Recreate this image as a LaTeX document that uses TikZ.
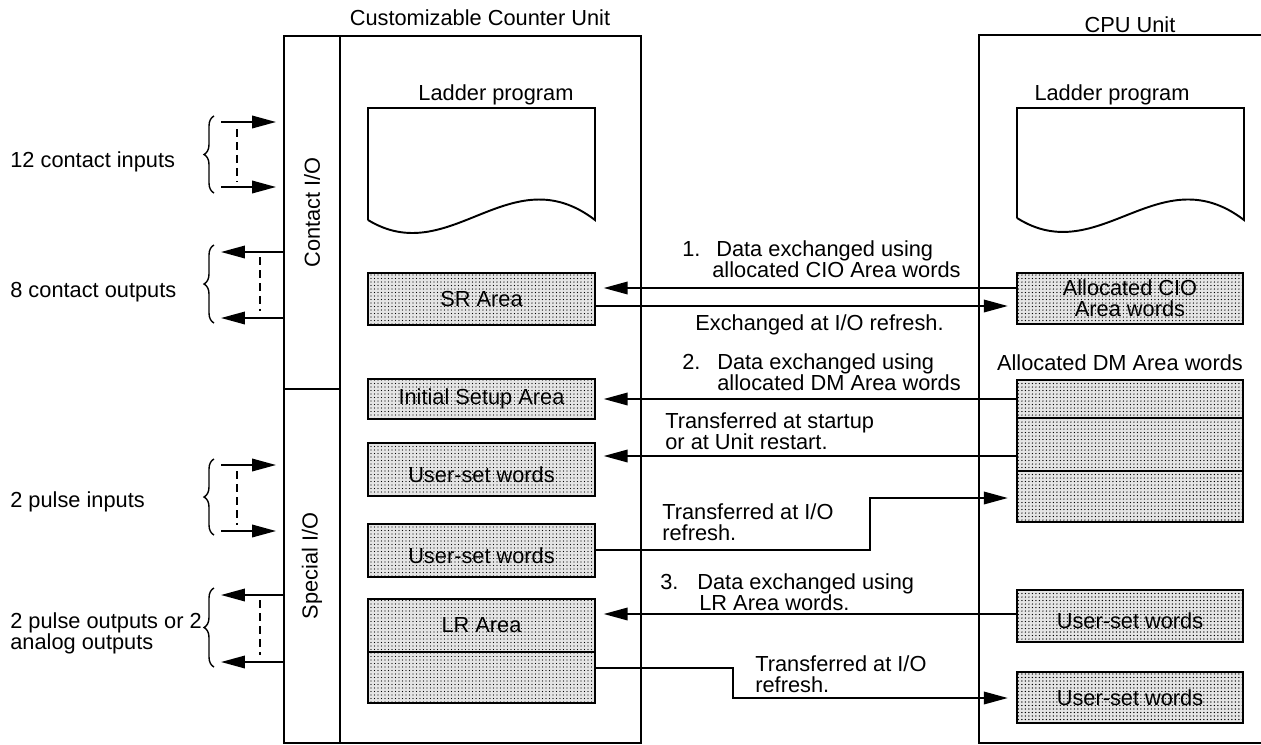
\documentclass[tikz,border=0pt]{standalone}
\usepackage{fontspec}
\setmainfont{Liberation Sans}
\usetikzlibrary{positioning,calc,arrows.meta,patterns.meta,decorations.pathreplacing}

\begin{document}
\begin{tikzpicture}[x=0.02cm, y=-0.02cm,
    font=\fontsize{12.4}{11.8}\selectfont,
    unitbox/.style={draw, line width=1.1pt, inner sep=0pt},
    area/.style={draw, line width=1.1pt, inner sep=0pt, minimum width=4.53cm,
        preaction={fill=black!10}, pattern={Dots[distance=0.07cm, radius=0.38pt]}, pattern color=black},
    lowtxt/.style={text height=0.5cm, text depth=0pt},
    arr/.style={-{Triangle[length=0.48cm, width=0.25cm]}, line width=1.1pt, shorten >=0.16cm},
    io/.style={-{Triangle[length=0.48cm, width=0.25cm]}, line width=1.1pt},
    lbl/.style={inner sep=0pt, align=left, anchor=west},
    brc/.style={decorate, decoration={brace, amplitude=0.2cm}, line width=0.8pt},
    dsh/.style={dash pattern=on 0.16cm off 0.1cm, line width=0.8pt},
]
\useasboundingbox (0,0) rectangle (1261,744);

% Customizable Counter Unit
\node (ccutitle) at (480,18) {Customizable Counter Unit};
\node[unitbox, minimum width=6.02cm, minimum height=14.14cm] (ccu) at (490.5,389.5) {};
\node[unitbox, rotate=90, minimum width=7.06cm, minimum height=1.12cm] (ctio) at (312,212.5) {Contact I/O};
\node[unitbox, rotate=90, minimum width=7.08cm, minimum height=1.12cm] (spio) at (312,566) {Special I/O};

\node (lad1) at (496,95) {Ladder program};
\draw[line width=1.1pt] (368,220) -- (368,108) -- (595,108) -- (595,220)
    .. controls (510,155) and (450,270) .. (368,220);

\node[area, minimum height=1.04cm] (sr) at (481.5,299) {SR Area};
\node[area, minimum height=0.8cm] (init) at (481.5,399) {Initial Setup Area};
\node[area, minimum height=1.06cm, lowtxt] (usr1) at (481.5,469.5) {User-set words};
\node[area, minimum height=1.06cm, lowtxt] (usr2) at (481.5,550.5) {User-set words};
\node[area, minimum height=1.06cm] (lr) at (481.5,625.5) {LR Area};
\node[area, minimum height=1.02cm] (lrb) at (481.5,677.5) {};

% CPU Unit
\node (cputitle) at (1130,25) {CPU Unit};
\draw[line width=1.1pt] (1261,35) -- (979,35) -- (979,743) -- (1261,743);

\node (lad2) at (1112,95) {Ladder program};
\draw[line width=1.1pt] (1017,218) -- (1017,108) -- (1244,108) -- (1244,220)
    .. controls (1159,155) and (1099,270) .. (1017,218);

\node[area, minimum height=1.02cm, align=center] (cio) at (1130,298.5) {Allocated CIO\\Area words};
\node (dmtitle) at (1120,363) {Allocated DM Area words};
\node[area, minimum height=0.76cm] (dma) at (1130,399) {};
\node[area, minimum height=1.06cm] (dmb) at (1130,444.5) {};
\node[area, minimum height=1.02cm] (dmc) at (1130,496.5) {};
\node[area, minimum height=1.04cm, lowtxt] (rusr1) at (1130,616) {User-set words};
\node[area, minimum height=1.02cm] (rusr2) at (1130,697.5) {User-set words};

% rows of the connectors
\coordinate (r1) at (0,288);
\coordinate (r2) at (0,306);
\coordinate (r3) at (0,399);
\coordinate (r4) at (0,456);
\coordinate (r5) at (0,550);
\coordinate (r5b) at (0,498);
\coordinate (r6) at (0,614);
\coordinate (r7) at (0,668);
\coordinate (r7b) at (0,698);
\coordinate (k1) at (870,0);
\coordinate (k2) at (733,0);

% Connectors
\draw[arr] (cio.west |- r1) -- (sr.east |- r1);
\draw[arr] (sr.east |- r2) -- (cio.west |- r2);
\draw[arr] (dma.west |- r3) -- (init.east |- r3);
\draw[arr] (dmb.west |- r4) -- (usr1.east |- r4);
\draw[arr] (usr2.east |- r5) -| (k1 |- r5b) -- (dmc.west |- r5b);
\draw[arr] (rusr1.west |- r6) -- (lr.east |- r6);
\draw[arr] (lrb.east |- r7) -| (k2 |- r7b) -- (rusr2.west |- r7b);

% Connector labels
\node[lbl] (t1) at (682,259) {\makebox[0.68cm][l]{1.}Data exchanged using\\\hspace*{0.6cm}allocated CIO Area words};
\node[lbl] (t2) at (695,325) {Exchanged at I/O refresh.};
\node[lbl] (t3) at (682,372) {\makebox[0.7cm][l]{2.}Data exchanged using\\\hspace*{0.7cm}allocated DM Area words};
\node[lbl] (t4) at (665,431) {Transferred at startup\\or at Unit restart.};
\node[lbl] (t5) at (662,522) {Transferred at I/O\\refresh.};
\node[lbl] (t6) at (660,592) {\makebox[0.74cm][l]{3.}Data exchanged using\\\hspace*{0.78cm}LR Area words.};
\node[lbl] (t7) at (755,674) {Transferred at I/O\\refresh.};

% Contact and special I/O
\coordinate (ci1) at (221,122);
\coordinate (ci2) at (221,187);
\coordinate (co1) at (221,252);
\coordinate (co2) at (221,318);
\coordinate (pi1) at (221,465);
\coordinate (pi2) at (221,531);
\coordinate (po1) at (221,595);
\coordinate (po2) at (221,662);

\draw[io, shorten >=0.14cm] (ci1) -- (ci1 -| ctio.north);
\draw[io, shorten >=0.14cm] (ci2) -- (ci2 -| ctio.north);
\draw[io] (co1 -| ctio.north) -- (co1);
\draw[io] (co2 -| ctio.north) -- (co2);
\draw[io, shorten >=0.14cm] (pi1) -- (pi1 -| spio.north);
\draw[io, shorten >=0.14cm] (pi2) -- (pi2 -| spio.north);
\draw[io] (po1 -| spio.north) -- (po1);
\draw[io] (po2 -| spio.north) -- (po2);

\draw[dsh] (237,129) -- (237,182);
\draw[dsh] (260,257) -- (260,311);
\draw[dsh] (237,471) -- (237,525);
\draw[dsh] (260,600) -- (260,655);

\draw[brc] (214,193) -- (214,116);
\draw[brc] (214,323) -- (214,245);
\draw[brc] (214,535) -- (214,459);
\draw[brc] (214,667) -- (214,588);

\node[lbl] (l1) at (10,162) {12 contact inputs};
\node[lbl] (l2) at (10,292) {8 contact outputs};
\node[lbl] (l3) at (10,502) {2 pulse inputs};
\node[lbl] (l4) at (10,633) {2 pulse outputs or 2\\analog outputs};
\end{tikzpicture}
\end{document}
